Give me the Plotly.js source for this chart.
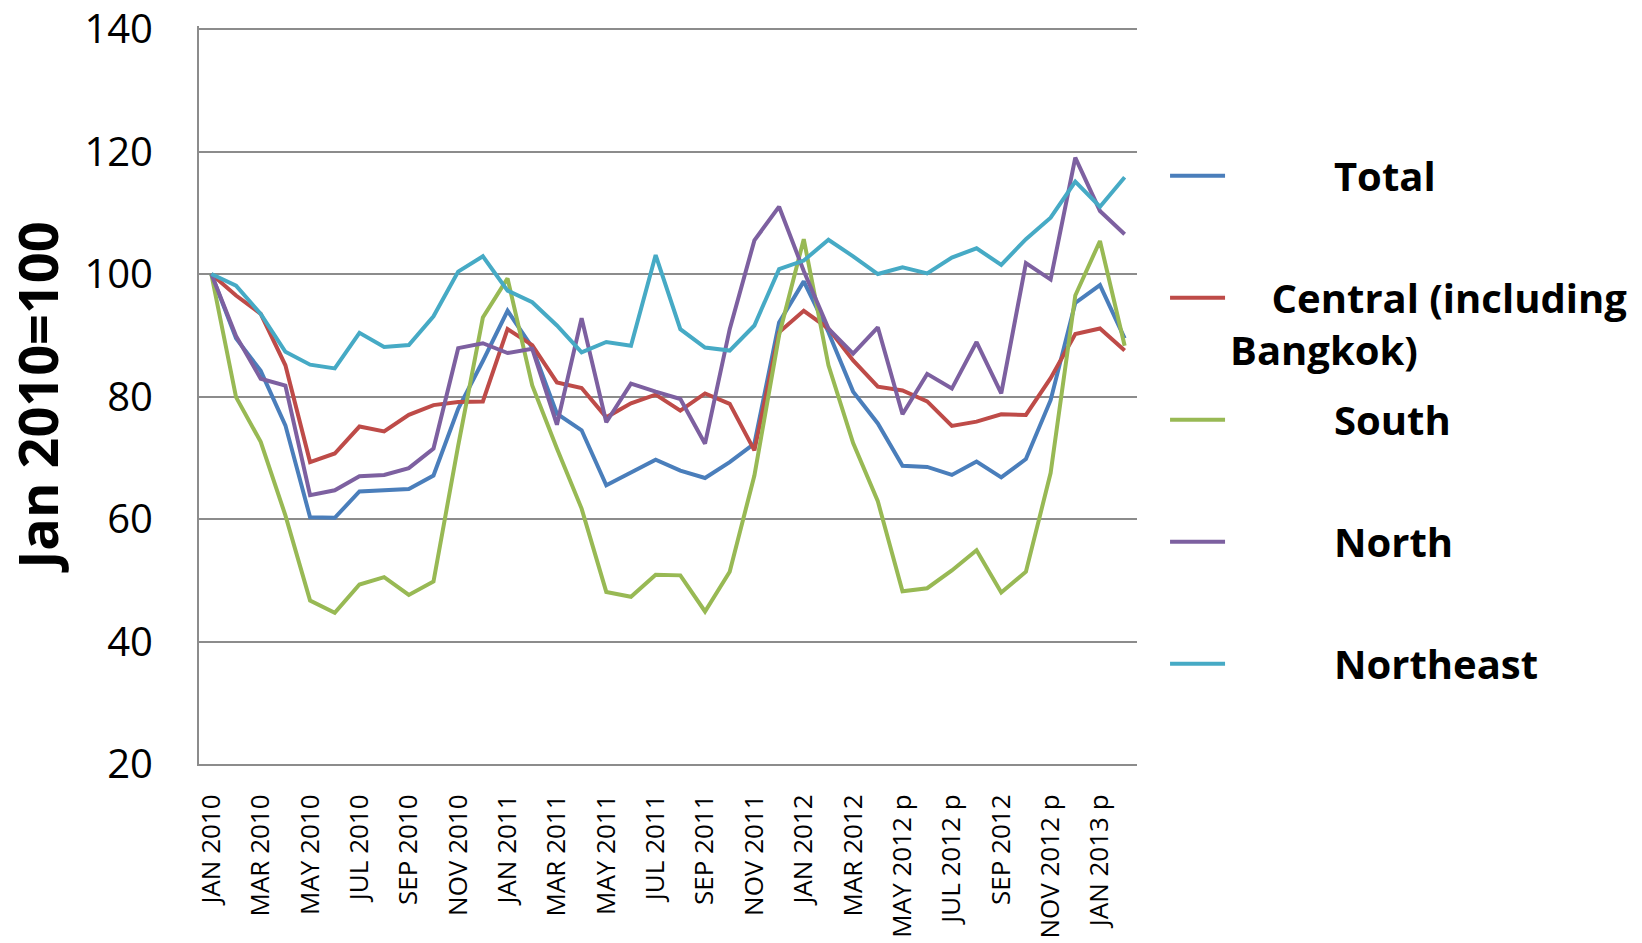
<!DOCTYPE html>
<html>
<head>
<meta charset="utf-8">
<script src="https://cdn.plot.ly/plotly-3.0.1.min.js"></script>
<style>
  html, body { margin: 0; padding: 0; background: #ffffff; }
  #chart { width: 1642px; height: 943px; }
</style>
</head>
<body>
<div id="chart"></div>
<script>
// Month categories (Jan 2010 - Feb 2013); "p" = preliminary
const months = [
  "JAN 2010","FEB 2010","MAR 2010","APR 2010","MAY 2010","JUN 2010","JUL 2010","AUG 2010","SEP 2010","OCT 2010","NOV 2010","DEC 2010",
  "JAN 2011","FEB 2011","MAR 2011","APR 2011","MAY 2011","JUN 2011","JUL 2011","AUG 2011","SEP 2011","OCT 2011","NOV 2011","DEC 2011",
  "JAN 2012","FEB 2012","MAR 2012","APR 2012","MAY 2012 p","JUN 2012 p","JUL 2012 p","AUG 2012 p","SEP 2012","OCT 2012 p","NOV 2012 p","DEC 2012 p",
  "JAN 2013 p","FEB 2013 p"
];

// Tick labels shown on the axis (every other month)
const tickLabels = [
  "JAN 2010","MAR 2010","MAY 2010","JUL 2010","SEP 2010","NOV 2010",
  "JAN 2011","MAR 2011","MAY 2011","JUL 2011","SEP 2011","NOV 2011",
  "JAN 2012","MAR 2012","MAY 2012 p","JUL 2012 p","SEP 2012","NOV 2012 p","JAN 2013 p"
];

const yTicks = [20, 40, 60, 80, 100, 120, 140];

const total = [100, 89.5, 84.2, 75.3, 60.3, 60.2, 64.5, 64.7, 64.9, 67.1, 78, 85.8,
  94.0, 88, 77.2, 74.5, 65.5, 67.6, 69.7, 67.9, 66.7, 69.3, 72.3, 92.1,
  98.8, 90.5, 80.8, 75.6, 68.7, 68.5, 67.2, 69.4, 66.8, 69.8, 79.4, 95.3,
  98.2, 89.5];

const central = [100, 96.5, 93.5, 85.1, 69.3, 70.7, 75.1, 74.3, 77.0, 78.6, 79.1, 79.2,
  91.0, 88.4, 82.3, 81.4, 76.6, 78.9, 80.3, 77.7, 80.5, 78.8, 71.2, 90.5,
  94.0, 91.1, 85.9, 81.6, 81.0, 79.2, 75.2, 75.9, 77.1, 77.0, 83.0, 90.2,
  91.1, 87.5];

const south = [100, 79.9, 72.6, 60.6, 46.7, 44.7, 49.3, 50.5, 47.6, 49.8, 72, 92.9,
  99.3, 81.8, 71.5, 61.7, 48.1, 47.3, 50.9, 50.8, 44.9, 51.4, 67.1, 90,
  105.7, 85.1, 72.4, 62.9, 48.2, 48.7, 51.6, 54.9, 48.0, 51.4, 67.5, 96.5,
  105.4, 88.3];

const north = [100, 89.9, 82.9, 81.8, 63.9, 64.7, 67.0, 67.2, 68.3, 71.5, 87.9, 88.7,
  87.1, 87.8, 75.4, 92.8, 75.8, 82.1, 80.8, 79.6, 72.3, 91.0, 105.5, 111.0,
  100.5, 91.1, 87.0, 91.3, 77.1, 83.7, 81.3, 88.9, 80.5, 101.8, 99.1, 119.0,
  110.3, 106.5];

const northeast = [100, 98.1, 93.5, 87.3, 85.2, 84.6, 90.4, 88.1, 88.4, 93.1, 100.4, 102.9,
  97.3, 95.4, 91.6, 87.2, 88.9, 88.3, 103.1, 91.0, 88.0, 87.5, 91.6, 100.8,
  102.2, 105.6, 102.9, 100, 101.1, 100.1, 102.7, 104.2, 101.5, 105.7, 109.2, 115.1,
  111.0, 115.8];

const seriesNames = ["Total", "Central (including Bangkok)", "South", "North", "Northeast"];
const seriesColors = ["#4A7EBB", "#BE4B48", "#98B954", "#7D60A0", "#46AAC5"];
const seriesValues = [total, central, south, north, northeast];

const NB = "\u00A0";
const pad = n => NB.repeat(n);
const legendTexts = [
  pad(10) + "Total<br>" + NB,
  pad(4) + "Central (including<br>" + "Bangkok)",
  pad(10) + "South<br>" + NB,
  pad(10) + "North<br>" + NB,
  pad(10) + "Northeast<br>" + NB
];

const traces = seriesValues.map((vals, i) => ({
  type: "scatter",
  mode: "lines",
  x: months,
  y: vals,
  name: legendTexts[i],
  legendgroup: "g" + i,
  line: { color: seriesColors[i], width: 4 },
  hoverinfo: "x+y"
}));

const gridCol = "#8c8c8c";

const layout = {
  width: 1642,
  height: 943,
  paper_bgcolor: "#ffffff",
  plot_bgcolor: "#ffffff",
  margin: { l: 199, r: 505, t: 26, b: 179, autoexpand: false },
  font: { family: "Open Sans, Liberation Sans, sans-serif", color: "#000000" },
  xaxis: {
    type: "category",
    categoryorder: "array",
    categoryarray: months,
    range: [-0.5, months.length - 0.5],
    tickmode: "array",
    tickvals: tickLabels,
    ticktext: tickLabels,
    tickangle: -90,
    tickfont: { family: "Open Sans, sans-serif", size: 26, color: "#000000" },
    ticks: "outside",
    ticklen: 18,
    tickcolor: "rgba(0,0,0,0)",
    ticklabeloverflow: "allow",
    showgrid: false,
    showline: true,
    linecolor: gridCol,
    linewidth: 2,
    zeroline: false,
    automargin: false
  },
  yaxis: {
    range: [20, 140.5],
    tickmode: "array",
    tickvals: yTicks,
    ticktext: yTicks.map(String),
    tickfont: { family: "Open Sans, sans-serif", size: 40, color: "#000000" },
    ticks: "outside",
    ticklen: 36,
    tickcolor: "rgba(0,0,0,0)",
    ticklabeloverflow: "allow",
    showgrid: true,
    gridcolor: gridCol,
    gridwidth: 2,
    showline: true,
    linecolor: gridCol,
    linewidth: 2,
    zeroline: false,
    automargin: false,
    title: {
      text: "Jan 2010=100",
      font: { family: "Open Sans, sans-serif", size: 54, color: "#000000", weight: "bold" },
      standoff: 10
    }
  },
  showlegend: true,
  legend: {
    x: 1.0299,
    xanchor: "left",
    y: 0.841,
    yanchor: "top",
    font: { family: "Open Sans, sans-serif", size: 40, color: "#000000", weight: "bold" },
    valign: "top",
    tracegroupgap: 15,
    itemwidth: 55,
    bgcolor: "rgba(0,0,0,0)",
    borderwidth: 0,
    traceorder: "grouped"
  }
};

Plotly.newPlot("chart", traces, layout, { staticPlot: true, displayModeBar: false });
</script>
</body>
</html>
